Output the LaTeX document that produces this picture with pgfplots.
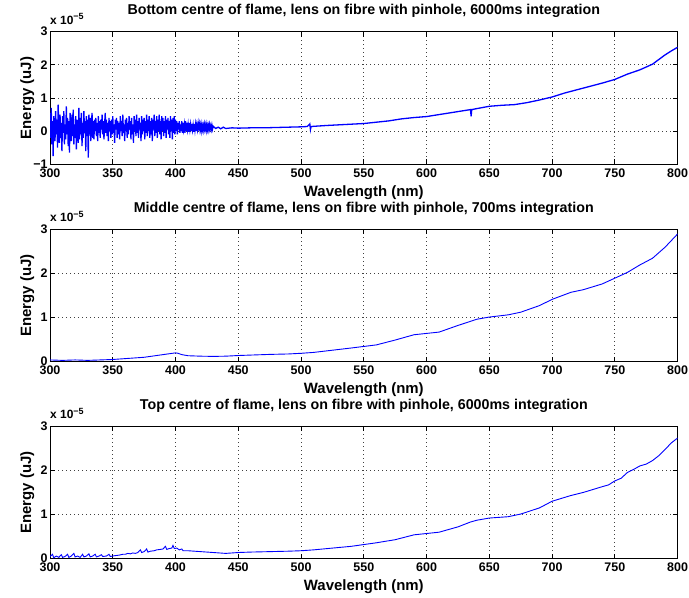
\documentclass[border=0pt]{standalone}
\usepackage{fontspec}
\setmainfont{Liberation Sans}
\usepackage{pgfplots}
\pgfplotsset{compat=1.18}

\definecolor{mblue}{RGB}{0,0,255}

\pgfplotsset{
  mlab/.style={
    scale only axis, width=627.6bp, height=132.6bp,
    anchor=south west,
    xmin=300, xmax=800,
    xtick={300,350,...,800},
    xticklabels={300,350,400,450,500,550,600,650,700,750,800},
    ymax=3,
    tick align=inside, major tick length=5bp,
    tick style={black, line width=0.7bp},
    axis line style={black, line width=0.8bp},
    grid=major,
    grid style={black!75, line width=0.7bp, dash pattern=on 0.7bp off 3.3bp},
    tick label style={font=\fontsize{12.5}{14}\selectfont\bfseries},
    /pgf/number format/assume math mode=true,
    xticklabel style={yshift=-1bp},
    yticklabel style={xshift=1bp},
    label style={font=\fontsize{15}{17}\selectfont\bfseries},
    xlabel={Wavelength (nm)},
    xlabel style={at={(0.5,0)}, anchor=base, yshift=-32bp},
    ylabel={Energy (uJ)},
    ylabel style={at={(0,0.5)}, anchor=base, yshift=19bp},
    title style={font=\fontsize{14.3}{17}\selectfont\bfseries,
                 at={(0.5,1)}, anchor=base, yshift=11bp},
    clip mode=individual,
  }
}

\newcommand{\expo}{\node[anchor=base west, inner sep=0pt,
  font=\fontsize{12}{14}\selectfont\bfseries]
  at (rel axis cs:0,1) [yshift=7.4bp] {x 10\textsuperscript{\fontsize{9}{10}\selectfont −5}};}

\begin{document}
\begin{tikzpicture}
\useasboundingbox (0,0) rectangle (689bp,598bp);

% ---- top
\begin{axis}[mlab, at={(50bp,433.7bp)}, ymin=-1,
  ytick={-1,0,1,2,3}, yticklabels={−1,0,1,2,3},
  title={Bottom centre of flame, lens on fibre with pinhole, 6000ms integration}]
\addplot[mblue, line width=1.3bp] coordinates {
(300,0.55)(300.5,-0.2)(301,0.7)(301.5,-0.4)(302,0.3)(302.5,-0.75)(303,0.45)(303.5,0.0)(304,-0.3)(304.5,0.6)
(305,-0.1)(305.5,0.35)(306,-0.5)(306.5,0.8)(307,0.1)(307.5,-0.35)(308,0.5)(308.5,-0.2)(309,0.25)(309.5,-0.6)
(310,0.45)(310.5,-0.05)(311,0.6)(311.5,-0.4)(312,0.2)(312.5,-0.25)(313,0.75)(313.5,-0.1)(314,0.4)(314.5,-0.45)
(315,0.3)(315.5,-0.65)(316,0.55)(316.5,0.05)(317,-0.3)(317.5,0.5)(318,-0.15)(318.5,0.65)(319,-0.4)(319.5,0.2)
(320,-0.2)(320.5,0.45)(321,-0.55)(321.5,0.35)(322,0.0)(322.5,-0.35)(323,0.7)(323.5,-0.25)(324,0.4)(324.5,-0.1)
(325,0.55)(325.5,-0.45)(326,0.25)(326.5,-0.2)(327,0.6)(327.5,-0.05)(328,0.3)(328.5,-0.6)(329,0.45)(329.5,-0.15)
(330,0.35)(330.5,-0.8)(331,0.5)(331.5,-0.1)(332,0.4)(332.5,-0.3)(333,0.2)(333.5,0.55)(334,-0.2)(334.5,0.3)
(335,-0.25)(335.5,0.35)(336,0.0)(336.5,0.4)(337,-0.15)(337.5,0.25)(338,-0.3)(338.5,0.45)(339,-0.05)(339.5,0.3)
(340,-0.2)(340.5,0.35)(341,0.05)(341.5,0.5)(342,-0.1)(342.5,0.3)(343,-0.25)(343.5,0.2)(344,0.55)(344.5,-0.05)
(345,0.35)(345.5,-0.15)(346,0.25)(346.5,-0.3)(347,0.4)(347.5,0.0)(348,0.3)(348.5,-0.2)(349,0.35)(349.5,-0.1)
(350,0.45)(350.5,-0.05)(351,0.2)(351.5,-0.35)(352,0.35)(352.5,0.05)(353,0.4)(353.5,-0.2)(354,0.3)(354.5,-0.1)
(355,0.25)(355.5,-0.25)(356,0.45)(356.5,0.0)(357,0.3)(357.5,-0.15)(358,0.5)(358.5,-0.05)(359,0.2)(359.5,-0.3)
(360,0.35)(360.5,0.0)(361,0.4)(361.5,-0.2)(362,0.25)(362.5,-0.1)(363,0.45)(363.5,0.05)(364,0.3)(364.5,-0.25)
(365,0.4)(365.5,-0.1)(366,0.2)(366.5,-0.35)(367,0.45)(367.5,0.0)(368,0.35)(368.5,-0.15)(369,0.5)(369.5,-0.05)
(370,0.3)(370.5,-0.2)(371,0.4)(371.5,0.05)(372,0.25)(372.5,-0.3)(373,0.45)(373.5,-0.1)(374,0.35)(374.5,0.0)
(375,0.4)(375.5,-0.25)(376,0.3)(376.5,-0.05)(377,0.5)(377.5,-0.15)(378,0.35)(378.5,0.0)(379,0.45)(379.5,-0.2)
(380,0.3)(380.5,-0.1)(381,0.4)(381.5,-0.3)(382,0.35)(382.5,0.05)(383,0.5)(383.5,-0.15)(384,0.3)(384.5,-0.05)
(385,0.45)(385.5,-0.2)(386,0.35)(386.5,0.0)(387,0.5)(387.5,-0.1)(388,0.3)(388.5,-0.25)(389,0.45)(389.5,0.0)
(390,0.4)(390.5,-0.15)(391,0.3)(391.5,-0.05)(392,0.45)(392.5,-0.2)(393,0.35)(393.5,0.05)(394,0.4)(394.5,-0.1)
(395,0.3)(395.5,-0.2)(396,0.45)(396.5,0.0)(397,0.35)(397.5,-0.25)(398,0.4)(398.5,-0.05)(399,0.45)(399.5,-0.1)
(400,0.35)(400.5,0.0)(401,0.3)(401.5,-0.1)(402,0.25)(402.5,0.05)(403,0.3)(403.5,-0.05)(404,0.2)(404.5,0.0)
(405,0.3)(405.5,-0.05)(406,0.25)(406.5,0.05)(407,0.2)(407.5,-0.05)(408,0.3)(408.5,0.0)(409,0.25)(409.5,0.05)
(410,0.2)(410.5,-0.02)(411,0.25)(411.5,0.05)(412,0.2)(412.5,0.0)(413,0.22)(413.5,0.04)(414,0.18)(414.5,-0.02)
(415,0.22)(415.5,0.03)(416,0.2)(416.5,0.0)(417,0.18)(417.5,0.05)(418,0.22)(418.5,0.02)(419,0.2)(419.5,0.04)
(420,0.18)(420.5,0.02)(421,0.2)(421.5,0.05)(422,0.17)(422.5,0.03)(423,0.2)(423.5,0.06)(424,0.18)(424.5,0.03)
(425,0.2)(425.5,0.05)(426,0.17)(426.5,0.04)(427,0.19)(427.5,0.06)(428,0.16)(428.5,0.05)(429,0.18)(429.5,0.06)
(430,0.15)(432,0.08)(434,0.12)(436,0.07)(438,0.12)(440,0.08)(445,0.1)(450,0.09)(460,0.1)(470,0.1)
(480,0.11)(490,0.12)(500,0.13)(505,0.14)(507,0.22)(507.5,0.05)(508,0.14)(520,0.17)(530,0.19)(540,0.21)
(550,0.23)(560,0.27)(570,0.31)(580,0.37)(590,0.41)(600,0.44)(610,0.5)(620,0.56)(630,0.62)(635,0.65)
(635.5,0.45)(636,0.65)(640,0.68)(650,0.75)(660,0.78)(670,0.8)(680,0.86)(690,0.94)(700,1.03)(710,1.15)
(720,1.25)(730,1.35)(740,1.45)(750,1.56)(760,1.72)(770,1.85)(780,2.02)(790,2.3)(795,2.42)(800,2.53)
};
\expo
\end{axis}

% ---- middle
\begin{axis}[mlab, at={(50bp,236.3bp)}, ymin=0,
  ytick={0,1,2,3}, yticklabels={0,1,2,3},
  title={Middle centre of flame, lens on fibre with pinhole, 700ms integration}]
\addplot[mblue, line width=0.9bp] coordinates {
(300,0.04)(310,0.03)(320,0.04)(330,0.03)(340,0.04)(350,0.05)(360,0.07)(375,0.1)(385,0.14)(395,0.18)
(400,0.2)(402,0.19)(405,0.16)(410,0.135)(420,0.125)(430,0.12)(440,0.125)(450,0.14)(460,0.15)(475,0.165)
(490,0.175)(500,0.19)(510,0.21)(525,0.26)(540,0.31)(550,0.345)(560,0.38)(575,0.49)(590,0.61)(600,0.64)
(610,0.67)(625,0.82)(640,0.96)(650,1.01)(665,1.06)(675,1.12)(690,1.27)(700,1.41)(715,1.57)(725,1.63)
(740,1.76)(750,1.89)(760,2.02)(770,2.19)(780,2.34)(790,2.59)(800,2.89)
};
\expo
\end{axis}

% ---- bottom
\begin{axis}[mlab, at={(50bp,39.3bp)}, ymin=0,
  ytick={0,1,2,3}, yticklabels={0,1,2,3},
  title={Top centre of flame, lens on fibre with pinhole, 6000ms integration}]
\addplot[mblue, line width=0.9bp] coordinates {
(300,0.05)(302,0.1)(303,0.02)(305,0.06)(307,0.03)(309,0.09)(310,0.03)(312,0.05)(314,0.1)(315,0.03)
(317,0.06)(319,0.12)(320,0.04)(322,0.06)(324,0.03)(326,0.1)(327,0.04)(329,0.06)(331,0.11)(332,0.04)
(334,0.06)(336,0.1)(337,0.04)(339,0.06)(341,0.09)(342,0.05)(345,0.06)(347,0.1)(348,0.05)(350,0.06)
(352,0.07)(355,0.08)(358,0.1)(360,0.1)(362,0.12)(364,0.11)(366,0.13)(368,0.12)(370,0.14)(372,0.2)
(373,0.14)(375,0.16)(377,0.22)(378,0.15)(380,0.17)(383,0.18)(385,0.2)(388,0.21)(390,0.22)(392,0.28)
(393,0.21)(395,0.23)(397,0.24)(398,0.3)(399,0.23)(401,0.24)(403,0.2)(405,0.22)(406,0.18)(410,0.18)
(415,0.17)(420,0.16)(425,0.15)(430,0.14)(440,0.12)(450,0.14)(460,0.15)(475,0.16)(490,0.17)(500,0.18)
(510,0.2)(525,0.24)(540,0.28)(550,0.32)(560,0.36)(575,0.43)(590,0.54)(600,0.57)(610,0.6)(625,0.72)
(635,0.83)(640,0.87)(650,0.92)(665,0.95)(675,1.01)(690,1.15)(700,1.3)(715,1.43)(725,1.5)(740,1.63)
(745,1.67)(750,1.76)(755,1.82)(760,1.95)(765,2.02)(770,2.1)(775,2.14)(780,2.22)(785,2.33)(790,2.47)
(795,2.62)(800,2.73)
};
\expo
\end{axis}
\end{tikzpicture}
\end{document}
